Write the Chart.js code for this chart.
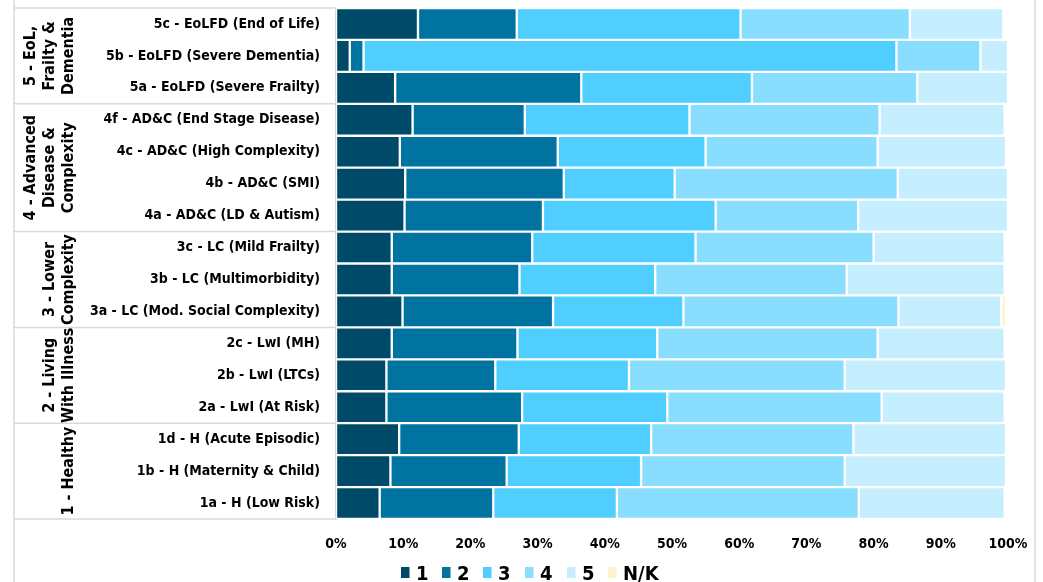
<!DOCTYPE html>
<html>
<head>
<meta charset="utf-8">
<script src="https://cdn.jsdelivr.net/npm/chart.js@4.4.1/dist/chart.umd.min.js"></script>
<style>
  html, body { margin: 0; padding: 0; background: #ffffff; }
  #wrap { width: 1043px; height: 582px; position: relative; }
</style>
</head>
<body>
<div id="wrap"><canvas id="c" width="1043" height="582"></canvas></div>
<script>
// ---- Data ----
const categories = [
  '5c - EoLFD (End of Life)',
  '5b - EoLFD (Severe Dementia)',
  '5a - EoLFD (Severe Frailty)',
  '4f - AD&C (End Stage Disease)',
  '4c - AD&C (High Complexity)',
  '4b - AD&C (SMI)',
  '4a - AD&C (LD & Autism)',
  '3c - LC (Mild Frailty)',
  '3b - LC (Multimorbidity)',
  '3a - LC (Mod. Social Complexity)',
  '2c - LwI (MH)',
  '2b - LwI (LTCs)',
  '2a - LwI (At Risk)',
  '1d - H (Acute Episodic)',
  '1b - H (Maternity & Child)',
  '1a - H (Low Risk)'
];
const groupLabels = [
  ['5 - EoL,', 'Frailty &', 'Dementia'],
  ['4 - Advanced', 'Disease &', 'Complexity'],
  ['3 - Lower', 'Complexity'],
  ['2 - Living', 'With Illness'],
  ['1 - Healthy']
];
const groupSizes = [3, 4, 3, 3, 3];

const seriesNames = ['1', '2', '3', '4', '5', 'N/K'];
const s1  = [12.2, 2.05, 8.8, 11.4, 9.5, 10.3, 10.2, 8.3, 8.3, 9.9, 8.3, 7.5, 7.5, 9.4, 8.1, 6.5];
const s2  = [14.7, 2.05, 27.7, 16.7, 23.5, 23.6, 20.6, 20.9, 19.0, 22.4, 18.7, 16.2, 20.2, 17.8, 17.3, 16.9];
const s3  = [33.3, 79.3, 25.4, 24.5, 22.0, 16.5, 25.7, 24.3, 20.2, 19.4, 20.8, 19.9, 21.6, 19.7, 20.0, 18.4];
const s4  = [25.2, 12.5, 24.6, 28.3, 25.6, 33.2, 21.2, 26.5, 28.5, 32.0, 32.8, 32.1, 31.9, 30.1, 30.3, 36.0];
const s5  = [13.9, 4.1, 13.5, 18.6, 19.1, 16.4, 22.3, 19.5, 23.5, 15.3, 18.9, 24.0, 18.3, 22.7, 24.0, 21.7];
const sNK = [null, null, null, null, null, null, null, null, null, 0.7, null, null, null, null, null, null];
const xTicks = [0, 10, 20, 30, 40, 50, 60, 70, 80, 90, 100];

// ---- Styles ----
const FONT = '"DejaVu Sans Condensed", "Liberation Sans", sans-serif';
const colors = ['#004A69', '#0073A0', '#4FCEFF', '#89DDFF', '#C5EEFF', '#FFF2CC'];
const GRID = '#D9D9D9';

const seriesData = [s1, s2, s3, s4, s5, sNK];
const datasets = seriesData.map((d, i) => ({
  label: seriesNames[i],
  data: d,
  backgroundColor: colors[i],
  borderColor: '#FFFFFF',
  borderWidth: 1.5,
  borderSkipped: false,
  barPercentage: 1.0,
  categoryPercentage: 1.0
}));

const decorPlugin = {
  id: 'decor',
  afterDraw(chart) {
    const ctx = chart.ctx;
    const y = chart.scales.y;
    const area = chart.chartArea;
    const leftX = 14;
    ctx.save();
    // outer chart border (left/right)
    ctx.strokeStyle = GRID;
    ctx.lineWidth = 1.5;
    ctx.beginPath();
    ctx.moveTo(leftX, 0); ctx.lineTo(leftX, 582);
    ctx.moveTo(1035, 0); ctx.lineTo(1035, 582);
    ctx.stroke();

    // group separators and labels
    const step = (y.getPixelForValue(1) - y.getPixelForValue(0));
    let idx = 0;
    const bounds = [];
    for (let g = 0; g < groupSizes.length; g++) {
      const top = y.getPixelForValue(idx) - step / 2;
      const bottom = y.getPixelForValue(idx + groupSizes[g] - 1) + step / 2;
      bounds.push([top, bottom]);
      idx += groupSizes[g];
    }
    ctx.beginPath();
    ctx.lineWidth = 1.5;
    bounds.forEach(([t, b], i) => {
      ctx.moveTo(leftX, t); ctx.lineTo(area.left, t);
      if (i === bounds.length - 1) { ctx.moveTo(leftX, b); ctx.lineTo(area.left, b); }
    });
    ctx.stroke();

    ctx.fillStyle = '#000000';
    ctx.font = 'bold 16px ' + FONT;
    ctx.textAlign = 'center';
    ctx.textBaseline = 'middle';
    bounds.forEach(([t, b], g) => {
      const lines = groupLabels[g];
      const n = lines.length;
      const cy = (t + b) / 2;
      lines.forEach((ln, i) => {
        const cx = 67.5 - (n - 1 - i) * 19;
        ctx.save();
        ctx.translate(cx, cy);
        ctx.rotate(-Math.PI / 2);
        ctx.fillText(ln, 0, 1);
        ctx.restore();
      });
    });

    // legend
    const legendX = [401, 442, 483, 525, 567, 608];
    ctx.font = 'bold 20px ' + FONT;
    ctx.textAlign = 'left';
    ctx.textBaseline = 'alphabetic';
    chart.data.datasets.forEach((ds, i) => {
      const x = legendX[i];
      ctx.fillStyle = ds.backgroundColor;
      ctx.fillRect(x, 567, 8.5, 11);
      ctx.fillStyle = '#000000';
      ctx.fillText(ds.label, x + 15, 580);
    });
    ctx.restore();
  }
};

new Chart(document.getElementById('c'), {
  type: 'bar',
  data: { labels: categories, datasets },
  options: {
    indexAxis: 'y',
    responsive: false,
    animation: false,
    devicePixelRatio: 1,
    layout: { padding: { left: 0, right: 35, top: 8, bottom: 0 } },
    plugins: {
      legend: { display: false },
      tooltip: { enabled: false },
      title: { display: false }
    },
    scales: {
      x: {
        stacked: true,
        min: 0,
        max: 100,
        afterBuildTicks(scale) { scale.ticks = xTicks.map(v => ({ value: v })); },
        afterFit(scale) { scale.height = 63; scale.paddingLeft = 0; scale.paddingRight = 0; },
        grid: { display: false, drawTicks: false },
        border: { display: false },
        ticks: {
          padding: 17,
          color: '#000000',
          font: { family: FONT, size: 14, weight: 'bold' },
          callback: v => v + '%',
          maxRotation: 0
        }
      },
      y: {
        stacked: true,
        afterFit(scale) { scale.width = 336; scale.paddingTop = 0; scale.paddingBottom = 0; },
        grid: { display: false, drawTicks: false },
        border: { display: true, color: GRID, width: 1.5 },
        ticks: {
          padding: 16,
          autoSkip: false,
          color: '#000000',
          font: { family: FONT, size: 14, weight: 'bold' }
        }
      }
    }
  },
  plugins: [decorPlugin]
});
</script>
</body>
</html>
